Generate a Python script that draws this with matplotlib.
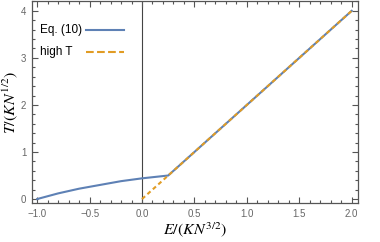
import matplotlib
matplotlib.use("Agg")
import matplotlib.pyplot as plt
from matplotlib.ticker import MultipleLocator

# Eq. (10) curve
E_eq = [-1.0, -0.8, -0.6, -0.4, -0.2, 0.0, 0.25, 2.0]
T_eq = [0.0, 0.12, 0.22, 0.30, 0.38, 0.44, 0.50, 4.0]
# high T limit
E_hi = [0.0, 2.0]
T_hi = [0.0, 4.0]

xticks = [-1.0, -0.5, 0.0, 0.5, 1.0, 1.5, 2.0]
yticks = [0, 1, 2, 3, 4]
labels = ['Eq. (10)', 'high T']

plt.rcParams['font.family'] = ['Liberation Sans', 'DejaVu Sans']
plt.rcParams['mathtext.fontset'] = 'stix'

blue = '#5e81b5'
orange = '#e19c24'
frame = '#555555'
dash = (0, (2, 1.5))

fig = plt.figure(figsize=(3.8, 2.42), dpi=100)
ax = fig.add_axes([0.084, 0.161, 0.858, 0.835])

ax.axvline(0, color='#444444', lw=0.8, zorder=1)
l1, = ax.plot(E_eq, T_eq, color=blue, lw=1.5, zorder=2)
l2, = ax.plot(E_hi, T_hi, color=orange, lw=1.5, ls=dash, zorder=3)

# legend: text left, line sample right (Mathematica style)
for i, (lab, ln) in enumerate(zip(labels, [l1, l2])):
    yy = 0.856 - i * 0.108
    ax.text(0.025, yy, lab, transform=ax.transAxes, fontsize=8.5,
            va='center', ha='left', color='black')
    ax.plot([0.165, 0.282], [yy, yy], transform=ax.transAxes,
            color=ln.get_color(), lw=1.5, ls=ln.get_linestyle())

ax.set_xlim(-1.05, 2.06)
ax.set_ylim(-0.085, 4.21)
ax.set_xticks(xticks)
ax.set_xticklabels([('%.1f' % v).replace('-', '\u2212') for v in xticks])
ax.set_yticks(yticks)
ax.xaxis.set_minor_locator(MultipleLocator(0.1))
ax.yaxis.set_minor_locator(MultipleLocator(0.2))
ax.tick_params(which='both', direction='in', top=True, right=True,
               color=frame, width=0.8, labelsize=7, labelcolor='#666666')
ax.tick_params(which='major', length=4, pad=4)
ax.tick_params(which='minor', length=2)
for s in ax.spines.values():
    s.set_color(frame)
    s.set_linewidth(0.9)

ax.set_xlabel(r'$E/(KN^{3/2})$', fontsize=11.5, labelpad=1)
ax.set_ylabel(r'$T/(KN^{1/2})$', fontsize=11.5, labelpad=1)

fig.savefig('out.png', dpi=100)
